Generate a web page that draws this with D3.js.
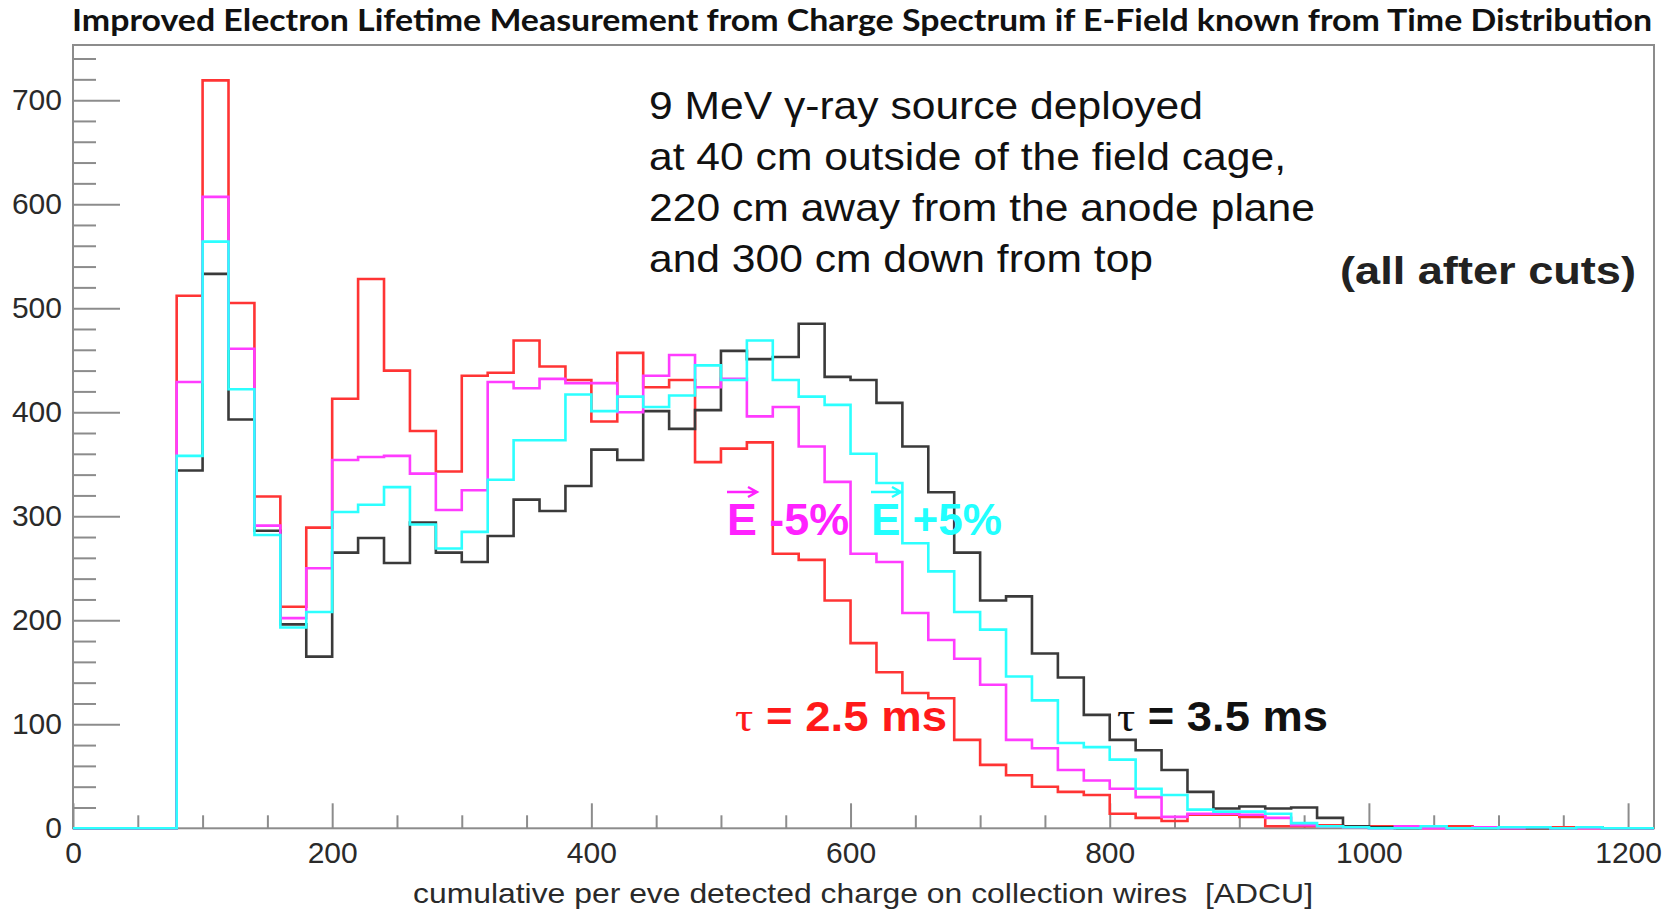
<!DOCTYPE html>
<html><head><meta charset="utf-8">
<script src="https://cdn.jsdelivr.net/npm/d3@7"></script>
<style>body{margin:0;background:#fff;} svg{display:block}</style>
</head><body>
<svg id="chart" width="1674" height="910"></svg>
<script>
// ---- data ----
const binWidth = 20;          // ADCU per bin
const binLow = 0;             // low edge of first bin
const xMax = 1220;
const yMax = 753;
// bins 0,20,...,1200
const tau25 = [0,0,0,0,
  512,719,505,319,213,289,413,528,440,382,
  343,435,438,469,444,431,391,457,424,431,
  352,365,371,264,258,219,178,150,130,125,
  85,61,51,40,35,32,14,10,7,13,
  13,11,2,2,3,1,2,0,0,2,
  0,0,0,1,0,0,0];
const tau35 = [0,0,0,0,
  344,533,393,286,196,165,265,279,255,294,
  265,256,281,316,305,329,364,354,401,384,
  402,459,451,453,485,434,431,409,367,323,
  265,219,223,168,145,109,85,75,56,35,
  19,21,19,20,10,2,1,0,2,0,
  0,0,0,0,1,0,0];
const eMinus5 = [0,0,0,0,
  429,607,461,291,202,250,354,357,358,341,
  306,325,429,423,432,428,428,400,435,455,
  424,432,396,405,367,333,264,256,207,181,
  163,138,85,77,56,46,38,30,11,14,
  14,13,10,3,2,1,0,2,0,0,
  1,0,1,0,0,0,0];
const ePlus5 = [0,0,0,0,
  358,564,422,282,193,208,304,311,328,292,
  269,285,335,373,373,417,401,415,405,416,
  445,431,469,431,415,407,360,332,274,247,
  208,191,146,123,82,78,66,38,32,18,
  16,16,14,5,2,1,0,0,2,0,
  0,1,1,0,1,0,0];
const xTicks = [0,200,400,600,800,1000,1200];
const yTicks = [0,100,200,300,400,500,600,700];
const seriesNames = ["tau25","tau35","eMinus5","ePlus5"];
const seriesColors = {tau25:"#ff3434", tau35:"#3a3a3a", eMinus5:"#ff3cff", ePlus5:"#2cffff"};
const seriesData = {tau25, tau35, eMinus5, ePlus5};
const titleText = "Improved Electron Lifetime Measurement from Charge Spectrum if E-Field known from Time Distribution";
const xTitle = "cumulative per eve detected charge on collection wires  [ADCU]";
const noteLines = ["9 MeV \u03b3-ray source deployed","at 40 cm outside of the field cage,","220 cm away from the anode plane","and 300 cm down from top"];

// ---- layout ----
const svg = d3.select("#chart");
const L = 73, R = 1654, T = 45, B = 828.3;
const x = d3.scaleLinear().domain([0, xMax]).range([L, R]);
const y = d3.scaleLinear().domain([0, yMax]).range([B, T]);
const gray = "#8c8c8c";

// title
svg.append("text").attr("x", 72).attr("y", 31)
  .attr("font-family", "Lato, 'Open Sans', sans-serif").attr("font-weight", 700)
  .attr("font-size", 31).attr("fill", "#111")
  .attr("textLength", 1580).attr("lengthAdjust", "spacingAndGlyphs")
  .text(titleText);

// frame
svg.append("rect").attr("x", L).attr("y", T).attr("width", R - L).attr("height", B - T)
  .attr("fill", "none").attr("stroke", gray).attr("stroke-width", 2);

const fontAx = "'Liberation Sans', Arial, sans-serif";
const fmt = d3.format("d");

// y axis major
svg.append("g").attr("transform", `translate(${L},0)`)
  .call(d3.axisLeft(y).tickValues(yTicks).tickFormat(fmt).tickSizeInner(-47).tickSizeOuter(0).tickPadding(11));
// y minor
const yMinor = d3.range(0, yMax, 20).filter(v => v % 100 !== 0);
svg.append("g").attr("transform", `translate(${L},0)`)
  .call(d3.axisLeft(y).tickValues(yMinor).tickSizeInner(-23).tickSizeOuter(0).tickFormat(""));
// x axis major
svg.append("g").attr("transform", `translate(0,${B})`)
  .call(d3.axisBottom(x).tickValues(xTicks).tickFormat(fmt).tickSizeInner(-25).tickSizeOuter(0).tickPadding(13));
const xMinor = d3.range(50, xMax, 50).filter(v => v % 200 !== 0);
svg.append("g").attr("transform", `translate(0,${B})`)
  .call(d3.axisBottom(x).tickValues(xMinor).tickSizeInner(-13).tickSizeOuter(0).tickFormat(""));

svg.selectAll(".domain").remove();
svg.selectAll(".tick line").attr("stroke", gray).attr("stroke-width", 2);
svg.selectAll(".tick text").attr("font-family", fontAx).attr("font-size", 30).attr("fill", "#2a2a2a");

// x title
svg.append("text").attr("x", 413).attr("y", 903)
  .attr("font-family", fontAx).attr("font-size", 28).attr("fill", "#2a2a2a")
  .style("white-space", "pre")
  .attr("textLength", 900).attr("lengthAdjust", "spacingAndGlyphs")
  .text(xTitle);

// histograms
function stepPoints(vals) {
  const pts = [[binLow, 0]];
  vals.forEach((v, i) => {
    const lo = binLow + i * binWidth, hi = lo + binWidth;
    pts.push([lo, v]); pts.push([hi, v]);
  });
  pts.push([binLow + vals.length * binWidth, 0]);
  return pts;
}
const line = d3.line().x(d => x(d[0])).y(d => y(d[1]));
seriesNames.forEach(name => {
  svg.append("path").attr("d", line(stepPoints(seriesData[name])))
    .attr("fill", "none").attr("stroke", seriesColors[name])
    .attr("stroke-width", 2.6).attr("stroke-linejoin", "miter");
});

// annotations
const noteG = svg.append("g");
const noteWidths = [554, 637, 666, 504];
noteLines.forEach((t, i) => {
  noteG.append("text").attr("x", 649).attr("y", 119 + i * 51)
    .attr("font-family", fontAx).attr("font-size", 39).attr("fill", "#111")
    .attr("textLength", noteWidths[i]).attr("lengthAdjust", "spacingAndGlyphs")
    .text(t);
});
svg.append("text").attr("x", 1340).attr("y", 284)
  .attr("font-family", fontAx).attr("font-weight", 700).attr("font-size", 39).attr("fill", "#222")
  .attr("textLength", 296).attr("lengthAdjust", "spacingAndGlyphs")
  .text("(all after cuts)");

function vecLabel(x0, txt, color, width) {
  svg.append("text").attr("x", x0).attr("y", 535)
    .attr("font-family", fontAx).attr("font-weight", 700).attr("font-size", 44).attr("fill", color)
    .attr("textLength", width).attr("lengthAdjust", "spacingAndGlyphs")
    .text(txt);
  svg.append("path")
    .attr("d", `M${x0},492 L${x0 + 30},492 M${x0 + 21},487 L${x0 + 30},492 L${x0 + 21},497`)
    .attr("fill", "none").attr("stroke", color).attr("stroke-width", 2.4);
}
vecLabel(727, "E -5%", "#ff22ff", 122);
vecLabel(871, "E +5%", "#22ffff", 131);

function tauLabel(x0, val, color, width) {
  const t = svg.append("text").attr("x", x0).attr("y", 731)
    .attr("font-family", fontAx).attr("font-weight", 700).attr("font-size", 42).attr("fill", color)
    .attr("textLength", width).attr("lengthAdjust", "spacingAndGlyphs");
  t.append("tspan").attr("font-family", "'Liberation Serif', serif").attr("font-weight", 400).text("\u03c4");
  t.append("tspan").text(" = " + val + " ms");
}
tauLabel(735, "2.5", "#ff1a1a", 212);
tauLabel(1117, "3.5", "#111", 211);
</script>
</body></html>
